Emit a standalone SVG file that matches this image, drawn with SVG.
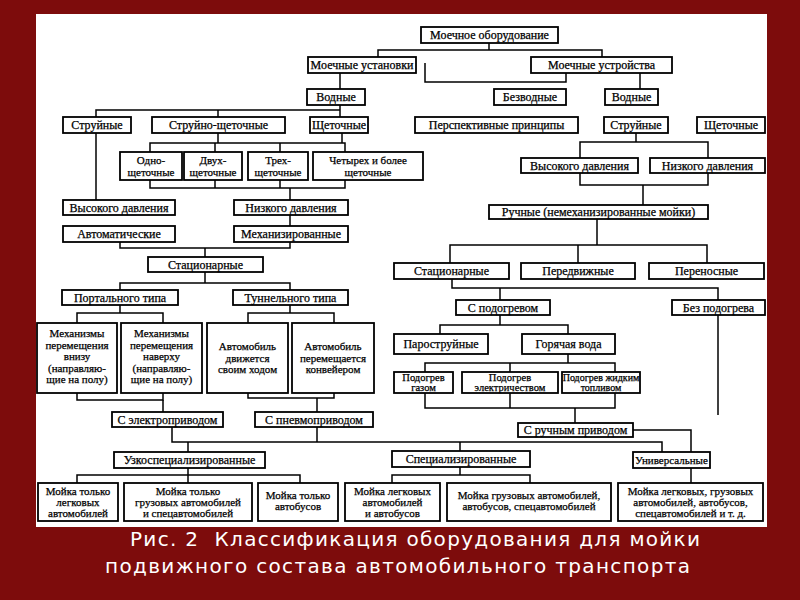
<svg xmlns="http://www.w3.org/2000/svg" width="800" height="600" viewBox="0 0 800 600">
<style>
.b{fill:#fff;stroke:#000;stroke-width:1.8}
.t{font-family:"Liberation Serif","Times New Roman",serif;font-size:12px;text-anchor:middle;fill:#000;stroke:#000;stroke-width:0.25}
.s{font-size:11px}
.xs{font-size:10.5px}
.xxs{font-size:10px}
.c{fill:none;stroke:#000;stroke-width:1.5}
.cap{font-family:"DejaVu Sans","Liberation Sans",sans-serif;font-size:20px;fill:#fff}
</style>
<rect width="800" height="600" fill="#7d0c0c"/>
<rect x="36" y="14" width="731" height="513" fill="#fff"/>
<g id="connectors" class="c">
<polyline points="489,43 489,50"/>
<polyline points="378,57 378,50 602,50 602,57"/>
<polyline points="340,73 340,89"/>
<polyline points="425,63 425,82 566,82 566,73"/>
<polyline points="640,73 640,89"/>
<polyline points="340,105 340,117"/>
<polyline points="96,117 96,110 340,110"/>
<polyline points="218,110 218,117"/>
<polyline points="96,133 96,200"/>
<polyline points="218,133 218,143"/>
<polyline points="342,133 342,143"/>
<polyline points="150,152 150,143 345,143 345,152"/>
<polyline points="215,143 215,152"/>
<polyline points="280,143 280,152"/>
<polyline points="150,180 150,188 345,188 345,180"/>
<polyline points="215,180 215,188"/>
<polyline points="280,180 280,188"/>
<polyline points="290,188 290,200"/>
<polyline points="290,215 290,226"/>
<polyline points="120,242 120,248 290,248 290,242"/>
<polyline points="205,248 205,257"/>
<polyline points="205,272 205,283"/>
<polyline points="120,290 120,283 290,283 290,290"/>
<polyline points="120,305 120,313"/>
<polyline points="77,323 77,313 163,313 163,323"/>
<polyline points="290,305 290,313"/>
<polyline points="248,323 248,313 334,313 334,323"/>
<polyline points="77,393 77,400 163,400 163,393"/>
<polyline points="163,400 163,412"/>
<polyline points="248,393 248,398 334,398 334,393"/>
<polyline points="317,398 317,412"/>
<polyline points="172,427 172,442 662,442 662,452"/>
<polyline points="317,427 317,442"/>
<polyline points="188,442 188,452"/>
<polyline points="460,442 460,451"/>
<polyline points="77,483 77,475 300,475 300,483"/>
<polyline points="188,468 188,483"/>
<polyline points="392,483 392,475 530,475 530,483"/>
<polyline points="460,467 460,475"/>
<polyline points="633,430 691,430 691,452"/>
<polyline points="691,468 691,483"/>
<polyline points="636,133 636,142"/>
<polyline points="580,158 580,142 708,142 708,158"/>
<polyline points="580,173 580,185 708,185 708,173"/>
<polyline points="643,185 643,205"/>
<polyline points="597,219 597,245"/>
<polyline points="450,263 450,245 707,245 707,263"/>
<polyline points="578,245 578,263"/>
<polyline points="452,279 452,288 718,288 718,300"/>
<polyline points="500,288 500,300"/>
<polyline points="500,315 500,325"/>
<polyline points="440,334 440,325 568,325 568,334"/>
<polyline points="568,354 568,363"/>
<polyline points="425,372 425,363 615,363 615,372"/>
<polyline points="510,363 510,372"/>
<polyline points="425,393 425,408 615,408 615,393"/>
<polyline points="510,393 510,408"/>
<polyline points="575,408 575,423"/>
<polyline points="718,315 718,415"/>
</g>
<g id="n1"><rect class="b" x="421" y="27" width="137" height="16"/><text class="t" x="489.5" y="39">Моечное оборудование</text></g>
<g id="n2"><rect class="b" x="308" y="57" width="108" height="16"/><text class="t" x="362" y="69">Моечные установки</text></g>
<g id="n3"><rect class="b" x="531" y="57" width="141" height="16"/><text class="t" x="601.5" y="69">Моечные устройства</text></g>
<g id="n4"><rect class="b" x="307" y="89" width="58" height="16"/><text class="t" x="336" y="101">Водные</text></g>
<g id="n5"><rect class="b" x="494" y="89" width="72" height="16"/><text class="t" x="530" y="101">Безводные</text></g>
<g id="n6"><rect class="b" x="605" y="89" width="53" height="16"/><text class="t" x="631.5" y="101">Водные</text></g>
<g id="n7"><rect class="b" x="63" y="117" width="68" height="16"/><text class="t" x="97" y="129">Струйные</text></g>
<g id="n8"><rect class="b" x="152" y="117" width="133" height="16"/><text class="t" x="218.5" y="129">Струйно-щеточные</text></g>
<g id="n9"><rect class="b" x="310" y="117" width="58" height="16"/><text class="t" x="339" y="129">Щеточные</text></g>
<g id="n10"><rect class="b" x="415" y="117" width="163" height="16"/><text class="t" x="496.5" y="129">Перспективные принципы</text></g>
<g id="n11"><rect class="b" x="604" y="117" width="64" height="16"/><text class="t" x="636" y="129">Струйные</text></g>
<g id="n12"><rect class="b" x="697" y="117" width="68" height="16"/><text class="t" x="731" y="129">Щеточные</text></g>
<g id="n13"><rect class="b" x="120" y="152" width="62" height="28"/><text class="t s" x="151" y="164">Одно-<tspan x="151" dy="11.5">щеточные</tspan></text></g>
<g id="n14"><rect class="b" x="184" y="152" width="58" height="28"/><text class="t s" x="213" y="164">Двух-<tspan x="213" dy="11.5">щеточные</tspan></text></g>
<g id="n15"><rect class="b" x="248" y="152" width="60" height="28"/><text class="t s" x="278" y="164">Трех-<tspan x="278" dy="11.5">щеточные</tspan></text></g>
<g id="n16"><rect class="b" x="313" y="152" width="110" height="28"/><text class="t s" x="368" y="164">Четырех и более<tspan x="368" dy="11.5">щеточные</tspan></text></g>
<g id="n17"><rect class="b" x="63" y="200" width="112" height="15"/><text class="t" x="119" y="211.5">Высокого давления</text></g>
<g id="n18"><rect class="b" x="234" y="200" width="114" height="15"/><text class="t" x="291" y="211.5">Низкого давления</text></g>
<g id="n19"><rect class="b" x="63" y="226" width="112" height="16"/><text class="t" x="119" y="238">Автоматические</text></g>
<g id="n20"><rect class="b" x="234" y="226" width="114" height="16"/><text class="t" x="291" y="238">Механизированные</text></g>
<g id="n21"><rect class="b" x="148" y="257" width="115" height="15"/><text class="t" x="205.5" y="268.5">Стационарные</text></g>
<g id="n22"><rect class="b" x="62" y="290" width="116" height="15"/><text class="t" x="120" y="301.5">Портального типа</text></g>
<g id="n23"><rect class="b" x="233" y="290" width="115" height="15"/><text class="t" x="290.5" y="301.5">Туннельного типа</text></g>
<g id="n24"><rect class="b" x="37" y="323" width="80" height="70"/><text class="t s" x="77" y="337">Механизмы<tspan x="77" dy="11.5">перемещения</tspan><tspan x="77" dy="11.5">внизу</tspan><tspan x="77" dy="11.5">(направляю-</tspan><tspan x="77" dy="11.5">щие на полу)</tspan></text></g>
<g id="n25"><rect class="b" x="121" y="323" width="81" height="70"/><text class="t s" x="161.5" y="337">Механизмы<tspan x="161.5" dy="11.5">перемещения</tspan><tspan x="161.5" dy="11.5">наверху</tspan><tspan x="161.5" dy="11.5">(направляю-</tspan><tspan x="161.5" dy="11.5">щие на полу)</tspan></text></g>
<g id="n26"><rect class="b" x="207" y="323" width="81" height="70"/><text class="t s" x="247.5" y="350">Автомобиль<tspan x="247.5" dy="11.5">движется</tspan><tspan x="247.5" dy="11.5">своим ходом</tspan></text></g>
<g id="n27"><rect class="b" x="292" y="323" width="82" height="70"/><text class="t s" x="333" y="350">Автомобиль<tspan x="333" dy="11.5">перемещается</tspan><tspan x="333" dy="11.5">конвейером</tspan></text></g>
<g id="n28"><rect class="b" x="112" y="412" width="111" height="15"/><text class="t" x="167.5" y="423.5">С электроприводом</text></g>
<g id="n29"><rect class="b" x="255" y="412" width="118" height="15"/><text class="t" x="314" y="423.5">С пневмоприводом</text></g>
<g id="n30"><rect class="b" x="114" y="452" width="151" height="16"/><text class="t" x="189.5" y="464">Узкоспециализированные</text></g>
<g id="n31"><rect class="b" x="392" y="451" width="138" height="16"/><text class="t" x="461" y="463">Специализированные</text></g>
<g id="n32"><rect class="b" x="633" y="452" width="77" height="16"/><text class="t s" x="671.5" y="464">Универсальные</text></g>
<g id="n33"><rect class="b" x="38" y="483" width="80" height="38"/><text class="t s" x="78" y="495">Мойка только<tspan x="78" dy="11">легковых</tspan><tspan x="78" dy="11">автомобилей</tspan></text></g>
<g id="n34"><rect class="b" x="124" y="483" width="128" height="38"/><text class="t s" x="188" y="495">Мойка только<tspan x="188" dy="11">грузовых автомобилей</tspan><tspan x="188" dy="11">и спецавтомобилей</tspan></text></g>
<g id="n35"><rect class="b" x="258" y="483" width="80" height="38"/><text class="t s" x="298" y="499">Мойка только<tspan x="298" dy="11">автобусов</tspan></text></g>
<g id="n36"><rect class="b" x="345" y="483" width="95" height="38"/><text class="t s" x="392.5" y="495">Мойка легковых<tspan x="392.5" dy="11">автомобилей</tspan><tspan x="392.5" dy="11">и автобусов</tspan></text></g>
<g id="n37"><rect class="b" x="447" y="483" width="164" height="38"/><text class="t s" x="529" y="499">Мойка грузовых автомобилей,<tspan x="529" dy="11">автобусов, спецавтомобилей</tspan></text></g>
<g id="n38"><rect class="b" x="618" y="483" width="145" height="38"/><text class="t s" x="690.5" y="495">Мойка легковых, грузовых<tspan x="690.5" dy="11">автомобилей, автобусов,</tspan><tspan x="690.5" dy="11">спецавтомобилей и т. д.</tspan></text></g>
<g id="n39"><rect class="b" x="521" y="158" width="117" height="15"/><text class="t" x="579.5" y="169.5">Высокого давления</text></g>
<g id="n40"><rect class="b" x="650" y="158" width="115" height="15"/><text class="t" x="707.5" y="169.5">Низкого давления</text></g>
<g id="n41"><rect class="b" x="489" y="205" width="219" height="14"/><text class="t" x="598.5" y="216">Ручные (немеханизированные мойки)</text></g>
<g id="n42"><rect class="b" x="394" y="263" width="115" height="16"/><text class="t" x="451.5" y="275">Стационарные</text></g>
<g id="n43"><rect class="b" x="521" y="263" width="114" height="16"/><text class="t" x="578" y="275">Передвижные</text></g>
<g id="n44"><rect class="b" x="649" y="263" width="115" height="16"/><text class="t" x="706.5" y="275">Переносные</text></g>
<g id="n45"><rect class="b" x="456" y="300" width="94" height="15"/><text class="t" x="503" y="311.5">С подогревом</text></g>
<g id="n46"><rect class="b" x="672" y="300" width="93" height="15"/><text class="t" x="718.5" y="311.5">Без подогрева</text></g>
<g id="n47"><rect class="b" x="394" y="334" width="94" height="20"/><text class="t" x="441" y="348">Пароструйные</text></g>
<g id="n48"><rect class="b" x="522" y="334" width="93" height="20"/><text class="t" x="568.5" y="348">Горячая вода</text></g>
<g id="n49"><rect class="b" x="394" y="372" width="59" height="21"/><text class="t xs" x="423.5" y="381">Подогрев<tspan x="423.5" dy="9.5">газом</tspan></text></g>
<g id="n50"><rect class="b" x="462" y="372" width="96" height="21"/><text class="t xs" x="510" y="381">Подогрев<tspan x="510" dy="9.5">электричеством</tspan></text></g>
<g id="n51"><rect class="b" x="562" y="372" width="78" height="21"/><text class="t xxs" x="601" y="381">Подогрев жидким<tspan x="601" dy="9.5">топливом</tspan></text></g>
<g id="n52"><rect class="b" x="518" y="423" width="115" height="14"/><text class="t" x="575.5" y="434">С ручным приводом</text></g>
<g id="caption">
<text class="cap" x="130" y="546" textLength="570" lengthAdjust="spacing" xml:space="preserve">Рис. 2  Классификация оборудования для мойки</text>
<text class="cap" x="105" y="573" textLength="585" lengthAdjust="spacing">подвижного состава автомобильного транспорта</text>
</g>
</svg>
